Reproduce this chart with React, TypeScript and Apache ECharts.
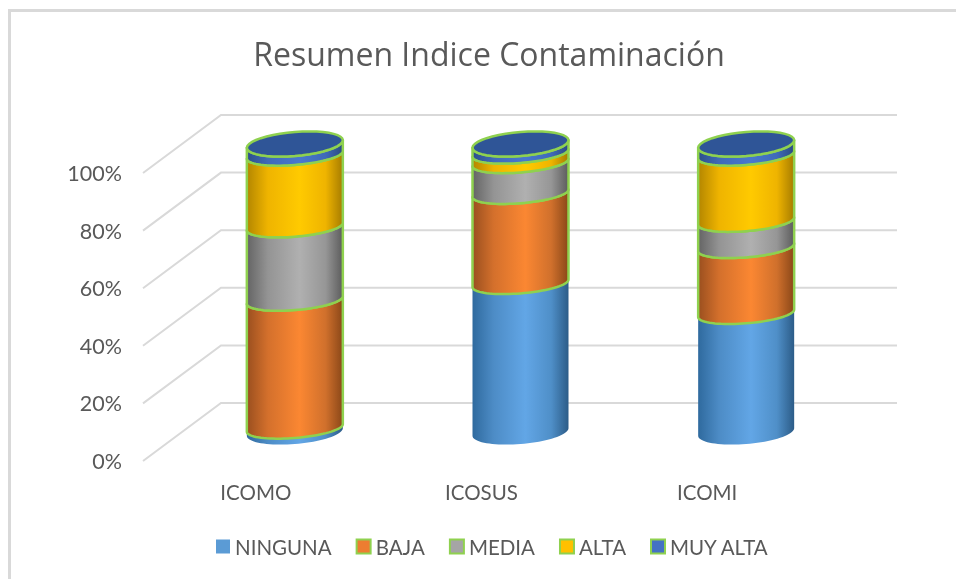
import React, { useEffect, useRef } from "react";
import * as echarts from "echarts";

const categories = ["ICOMO", "ICOSUS", "ICOMI"];
const tickValues = [0, 20, 40, 60, 80, 100];
const seriesNames = ["NINGUNA", "BAJA", "MEDIA", "ALTA", "MUY ALTA"];
const ninguna = [1.4, 51.6, 41.2];
const baja = [44.4, 31.3, 22.9];
const media = [25.5, 10.7, 9.1];
const alta = [24.9, 3.3, 23];
const muyAlta = [3.8, 3.1, 3.8];
const seriesValues = [ninguna, baja, media, alta, muyAlta];
const seriesColors = ["#5B9BD5", "#ED7D31", "#A5A5A5", "#FFC000", "#4472C4"];
const gradients = [
  ["#2f6a9e", "#4d8cc6", "#62a6e6", "#4f8fc8", "#2c5c88"],
  ["#9a4f1f", "#d4702c", "#fb8732", "#d0702c", "#8a4718"],
  ["#646464", "#949494", "#b0b0b0", "#969696", "#5c5c5c"],
  ["#b38600", "#efb400", "#ffca00", "#efb400", "#a67c00"],
  ["#2d4f8a", "#3f6ab8", "#4878cf", "#3f6ab8", "#2a4a80"],
];
const gradientStops = [0, 0.22, 0.55, 0.82, 1];
const topColor = "#2F5597";
const outline = "#8FD14F";

const DX = 39;
const DY = -29;
const RX = 48;
const RY_END = 12;
const RY_MID = 10;
const SHEAR = 3.8;

function arc(cx: number, cy: number, ry: number, from: number, to: number) {
  const pts: number[][] = [];
  const n = 40;
  for (let i = 0; i <= n; i++) {
    const t = from + ((to - from) * i) / n;
    pts.push([
      cx + RX * Math.cos(t),
      cy + ry * Math.sin(t) - SHEAR * Math.cos(t),
    ]);
  }
  return pts;
}

export default function App() {
  const ref = useRef<HTMLDivElement>(null);
  useEffect(() => {
    const chart = echarts.init(ref.current!, null, { renderer: "svg" });
    const font = "Lato, 'Open Sans', sans-serif";

    const wallSeries = {
      type: "custom",
      name: "wall",
      silent: true,
      z: 1,
      data: tickValues.map((t) => [0, t]),
      encode: { x: 0, y: 1 },
      renderItem: (params: any, api: any) => {
        const y = api.coord([0, api.value(1)])[1];
        const cs = params.coordSys;
        return {
          type: "polyline",
          shape: {
            points: [
              [cs.x, y],
              [cs.x + 2 * DX, y + 2 * DY],
              [cs.x + cs.width + 2 * DX - 1, y + 2 * DY],
            ],
          },
          style: { stroke: "#D9D9D9", lineWidth: 2, fill: "none" },
        };
      },
    };

    const cylinderSeries = seriesNames.map((name, s) => ({
      type: "custom",
      name,
      silent: true,
      z: 2 + s,
      itemStyle: { color: seriesColors[s] },
      encode: { x: 0, y: [1, 2] },
      data: categories.map((_, c) => {
        let start = 0;
        for (let k = 0; k < s; k++) start += seriesValues[k][c];
        return [c, start, start + seriesValues[s][c]];
      }),
      renderItem: (_params: any, api: any) => {
        const c = api.value(0);
        const p0 = api.coord([c, api.value(1)]);
        const p1 = api.coord([c, api.value(2)]);
        const cx = p0[0] + DX;
        const y0 = p0[1] + DY;
        const y1 = p1[1] + DY;
        const isFirst = s === 0;
        const isLast = s === seriesNames.length - 1;
        const bottom = arc(cx, y0, isFirst ? RY_END : RY_MID, Math.PI, 0);
        const top = arc(cx, y1, isLast ? RY_END : RY_MID, 0, Math.PI);
        const lineProps = isFirst
          ? { stroke: "none", lineWidth: 0 }
          : { stroke: outline, lineWidth: 2.5 };
        const children: any[] = [
          {
            type: "polygon",
            shape: { points: bottom.concat(top) },
            style: {
              ...lineProps,
              lineJoin: "round",
              fill: new echarts.graphic.LinearGradient(
                0, 0, 1, 0,
                gradientStops.map((offset, i) => ({ offset, color: gradients[s][i] }))
              ),
            },
          },
        ];
        if (isLast) {
          children.push({
            type: "polygon",
            shape: { points: arc(cx, y1, RY_END, 0, Math.PI * 2) },
            style: { fill: topColor, stroke: outline, lineWidth: 2.5 },
          });
        }
        return { type: "group", children };
      },
    }));

    chart.setOption({
      animation: false,
      backgroundColor: "#ffffff",
      title: {
        text: "Resumen Indice Contaminación",
        left: 484,
        top: 32,
        textAlign: "center",
        textStyle: { fontFamily: "'Open Sans', sans-serif", fontSize: 32, fontWeight: "normal", color: "#595959" },
      },
      legend: {
        data: seriesNames.map((name, i) => ({
          name,
          icon: "rect",
          itemStyle: {
            color: seriesColors[i],
            borderColor: i === 0 ? seriesColors[0] : outline,
            borderWidth: i === 0 ? 0 : 2,
          },
        })),
        left: 211,
        top: 531,
        itemWidth: 14,
        itemHeight: 14,
        itemGap: 24,
        textStyle: { fontFamily: font, fontSize: 20.5, color: "#595959" },
      },
      grid: { left: 143, top: 173, width: 677, height: 288 },
      xAxis: {
        type: "category",
        data: categories,
        axisLine: { show: false },
        axisTick: { show: false },
        axisLabel: { margin: 20, fontFamily: font, fontSize: 20.5, color: "#595959" },
      },
      yAxis: {
        type: "value",
        min: 0,
        max: 100,
        interval: 20,
        axisLine: { show: false },
        axisTick: { show: false },
        splitLine: { show: false },
        axisLabel: { margin: 21, fontFamily: font, fontSize: 21.5, color: "#595959", formatter: "{value}%" },
      },
      graphic: [
        {
          type: "polyline",
          silent: true,
          shape: { points: [[9.5, 579], [9.5, 10.5], [956, 10.5]] },
          style: { stroke: "#D9D9D9", lineWidth: 3, fill: "none" },
        },
      ],
      series: [wallSeries, ...cylinderSeries],
    });
    return () => chart.dispose();
  }, []);
  return (
    <div
      ref={ref}
      style={{ position: "fixed", left: 0, top: 0, width: 956, height: 579, filter: "blur(0.5px)" }}
    />
  );
}
